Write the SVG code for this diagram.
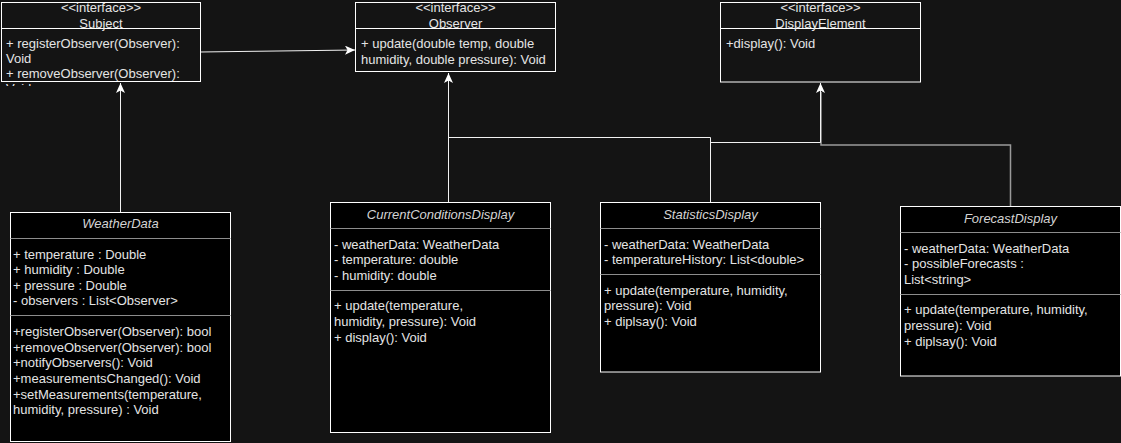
<svg xmlns="http://www.w3.org/2000/svg" width="1121" height="443" viewBox="0 0 1121 443">
<style>
text{font-family:"Liberation Sans",Arial,Helvetica,sans-serif;font-size:13px;fill:#e4e4e4}
.c{text-anchor:middle}
.t{font-style:italic;fill:#d4d4d4;text-anchor:middle}
.ibox{fill:#141414;stroke:#ffffff;stroke-width:1}
.cbox{fill:#000000;stroke:#ffffff;stroke-width:1}
.idiv{stroke:#ffffff;stroke-width:1}
.cdiv{stroke:#8c8c8c;stroke-width:1}
.edge{fill:none;stroke:#f2f2f2;stroke-width:1}
.edge2{fill:none;stroke:#9a9a9a;stroke-width:1.5}
</style>
<defs>
<marker id="arr" viewBox="0 0 10 9" refX="10" refY="4.5" markerWidth="10" markerHeight="9" orient="auto" markerUnits="userSpaceOnUse">
<path d="M0,0 L10,4.5 L0,9 L2.5,4.5 Z" fill="#ffffff"/>
</marker>
<clipPath id="voidclip"><rect x="0" y="82.5" width="60" height="3.5"/></clipPath>
</defs>
<rect x="0" y="0" width="1121" height="443" fill="#141414"/>

<g id="connectors">
<path class="edge2" d="M1010.5,207 L1010.5,145 L821,145 L821,92"/>
<path class="edge" d="M200,52 L355,50" marker-end="url(#arr)"/>
<path class="edge" d="M120.5,212 L120.5,83" marker-end="url(#arr)"/>
<path class="edge" d="M448.5,203 L448.5,73" marker-end="url(#arr)"/>
<path class="edge" d="M710.5,203 L710.5,137.5 L448.5,137.5"/>
<path class="edge" d="M710.5,203 L710.5,142.5 L820.5,142.5 L820.5,83" marker-end="url(#arr)"/>
</g>

<g id="Subject">
<rect class="ibox" x="1.5" y="2.5" width="199" height="79"/>
<line class="idiv" x1="1.5" y1="28.5" x2="200.5" y2="28.5"/>
<text class="c" x="101" y="12">&lt;&lt;interface&gt;&gt;</text>
<text class="c" x="101" y="28">Subject</text>
<text x="6" y="47.5">+ registerObserver(Observer):</text>
<text x="6" y="62.5">Void</text>
<text x="6" y="77.5">+ removeObserver(Observer):</text>
<text x="6" y="92.5" clip-path="url(#voidclip)">Void</text>
</g>

<g id="Observer">
<rect class="ibox" x="355.5" y="2.5" width="200" height="69"/>
<line class="idiv" x1="355.5" y1="28.5" x2="555.5" y2="28.5"/>
<text class="c" x="455.5" y="12">&lt;&lt;interface&gt;&gt;</text>
<text class="c" x="455.5" y="28">Observer</text>
<text x="361" y="47.5">+ update(double temp, double</text>
<text x="361" y="63.5">humidity, double pressure): Void</text>
</g>

<g id="DisplayElement">
<rect class="ibox" x="720.5" y="2.5" width="200" height="79.5"/>
<line class="idiv" x1="720.5" y1="28.5" x2="920.5" y2="28.5"/>
<text class="c" x="820.5" y="12">&lt;&lt;interface&gt;&gt;</text>
<text class="c" x="820.5" y="28">DisplayElement</text>
<text x="726" y="47.5">+display(): Void</text>
</g>

<g id="WeatherData">
<rect class="cbox" x="10.5" y="212.5" width="220" height="229"/>
<line class="cdiv" x1="10.5" y1="238.5" x2="230.5" y2="238.5"/>
<line class="cdiv" x1="10.5" y1="315.5" x2="230.5" y2="315.5"/>
<text class="t" x="120.5" y="228">WeatherData</text>
<text x="13" y="258.5">+ temperature : Double</text>
<text x="13" y="274">+ humidity : Double</text>
<text x="13" y="289.5">+ pressure : Double</text>
<text x="13" y="305">- observers : List&lt;Observer&gt;</text>
<text x="13" y="336">+registerObserver(Observer): bool</text>
<text x="13" y="351.5">+removeObserver(Observer): bool</text>
<text x="13" y="367">+notifyObservers(): Void</text>
<text x="13" y="383">+measurementsChanged(): Void</text>
<text x="13" y="398.5">+setMeasurements(temperature,</text>
<text x="13" y="414">humidity, pressure) : Void</text>
</g>

<g id="CurrentConditionsDisplay">
<rect class="cbox" x="330.5" y="202.5" width="220" height="230"/>
<line class="cdiv" x1="330.5" y1="228.5" x2="550.5" y2="228.5"/>
<line class="cdiv" x1="330.5" y1="290.5" x2="550.5" y2="290.5"/>
<text class="t" x="440.5" y="218.5">CurrentConditionsDisplay</text>
<text x="334" y="248.5">- weatherData: WeatherData</text>
<text x="334" y="263.5">- temperature: double</text>
<text x="334" y="279.5">- humidity: double</text>
<text x="334" y="309.5">+ update(temperature,</text>
<text x="334" y="325.5">humidity, pressure): Void</text>
<text x="334" y="341.5">+ display(): Void</text>
</g>

<g id="StatisticsDisplay">
<rect class="cbox" x="600.5" y="202.5" width="220" height="169.5"/>
<line class="cdiv" x1="600.5" y1="228.5" x2="820.5" y2="228.5"/>
<line class="cdiv" x1="600.5" y1="274.5" x2="820.5" y2="274.5"/>
<text class="t" x="710.5" y="218.5">StatisticsDisplay</text>
<text x="604" y="248.5">- weatherData: WeatherData</text>
<text x="604" y="263.5">- temperatureHistory: List&lt;double&gt;</text>
<text x="604" y="295">+ update(temperature, humidity,</text>
<text x="604" y="309.5">pressure): Void</text>
<text x="604" y="326">+ diplsay(): Void</text>
</g>

<g id="ForecastDisplay">
<rect class="cbox" x="900.5" y="206.5" width="220" height="169.5"/>
<line class="cdiv" x1="900.5" y1="232.5" x2="1120.5" y2="232.5"/>
<line class="cdiv" x1="900.5" y1="294.5" x2="1120.5" y2="294.5"/>
<text class="t" x="1010.5" y="222.5">ForecastDisplay</text>
<text x="904" y="253">- weatherData: WeatherData</text>
<text x="904" y="268">- possibleForecasts :</text>
<text x="904" y="284">List&lt;string&gt;</text>
<text x="904" y="314">+ update(temperature, humidity,</text>
<text x="904" y="329.5">pressure): Void</text>
<text x="904" y="345.5">+ diplsay(): Void</text>
</g>
</svg>
